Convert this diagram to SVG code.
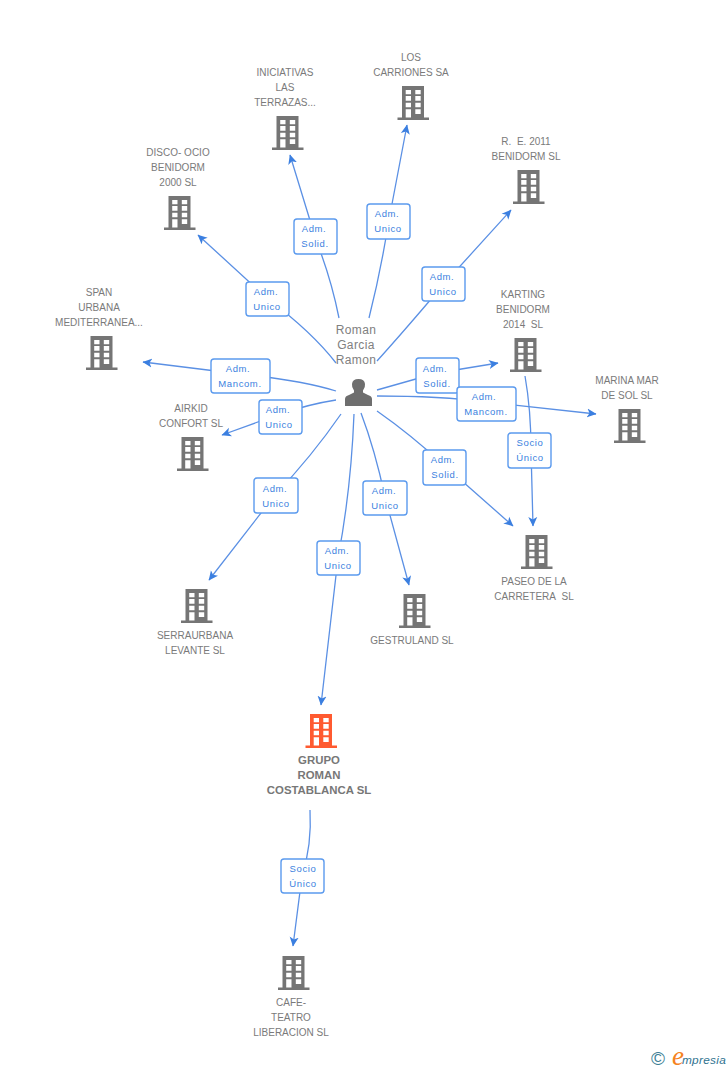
<svg xmlns="http://www.w3.org/2000/svg" width="728" height="1070" viewBox="0 0 728 1070">
<style>
text{font-family:"Liberation Sans",Arial,sans-serif;text-anchor:middle}
.n{font-size:10px;fill:#7a7a7a}
.b{font-size:11.400px;fill:#777;font-weight:bold}
.p{font-size:12px;fill:#808080;letter-spacing:.4px}
.l{font-size:9.500px;fill:#3b7fe0;letter-spacing:.6px}
.c{fill:none;stroke:#5b90e4;stroke-width:1.3}
.a{marker-end:url(#ar)}
.bx{fill:#fff;stroke:#5b9aee;stroke-width:1.4}
</style>
<defs>
<marker id="ar" markerUnits="userSpaceOnUse" markerWidth="11" markerHeight="10" refX="9" refY="5" orient="auto"><path d="M0 0.5L9.500 5L0 9.500L2.500 5Z" fill="#3b7fe0"/></marker>
<g id="bld"><path fill-rule="evenodd" d="M4.500 0H26.500V31.500H31.500V34H0V31.500H4.500ZM8.200 4V8.300H13.500V4ZM17.800 4V8.300H23.200V4ZM8.200 10V14.700H13.500V10ZM17.800 10V14.700H23.200V10ZM8.200 16.700V21.300H13.500V16.700ZM17.800 16.700V21.300H23.200V16.700ZM8.200 23.300V31.500H13.500V23.300ZM17.800 23.300V28H23.200V23.300Z"/></g>
</defs>
<rect width="728" height="1070" fill="#fff"/>
<g id="connectors">
<path class="c a" d="M339 318Q331 278 316 240L290 155"/>
<path class="c a" d="M369 318Q381 270 388 225L407 125"/>
<path class="c a" d="M336 363Q312 332 268 299L198 235"/>
<path class="c a" d="M377 361Q405 330 443 285L511 210"/>
<path class="c a" d="M336 391Q300 380 240 374L143 362"/>
<path class="c a" d="M336 400Q310 404 280 414L222 435"/>
<path class="c a" d="M377 390L437 373L498 363"/>
<path class="c a" d="M377 396Q440 396 487 402L596 414"/>
<path class="c a" d="M525 376Q531 410 531 450L533 526"/>
<path class="c a" d="M377 411Q410 434 445 466L513 526"/>
<path class="c a" d="M361 413Q375 450 385 497L409 585"/>
<path class="c a" d="M354 414Q351 490 338 558L321 705"/>
<path class="c a" d="M341 414Q312 456 275 495L209 580"/>
<path class="c a" d="M310 810Q312 845 302 876L293 946"/>
</g>
<g class="labels">
<g><rect class="bx" x="294" y="219" width="43" height="35" rx="3"/><text class="l" x="314" y="232">Adm.</text><text class="l" x="315" y="247">Solid.</text></g>
<g><rect class="bx" x="367" y="204" width="43" height="35" rx="3"/><text class="l" x="387" y="217">Adm.</text><text class="l" x="388" y="232">Unico</text></g>
<g><rect class="bx" x="246" y="282" width="43" height="34" rx="3"/><text class="l" x="266" y="295">Adm.</text><text class="l" x="267" y="310">Unico</text></g>
<g><rect class="bx" x="422" y="267" width="43" height="34" rx="3"/><text class="l" x="442" y="280">Adm.</text><text class="l" x="443" y="295">Unico</text></g>
<g><rect class="bx" x="211" y="359" width="59" height="34" rx="3"/><text class="l" x="238" y="372">Adm.</text><text class="l" x="240" y="387">Mancom.</text></g>
<g><rect class="bx" x="259" y="400" width="43" height="34" rx="3"/><text class="l" x="278" y="413">Adm.</text><text class="l" x="279" y="428">Unico</text></g>
<g><rect class="bx" x="416" y="358" width="43" height="35" rx="3"/><text class="l" x="435" y="372">Adm.</text><text class="l" x="437" y="387">Solid.</text></g>
<g><rect class="bx" x="457" y="387" width="59" height="34" rx="3"/><text class="l" x="484" y="400">Adm.</text><text class="l" x="486" y="415">Mancom.</text></g>
<g><rect class="bx" x="508" y="433" width="43" height="35" rx="3"/><text class="l" x="530" y="446">Socio</text><text class="l" x="530" y="461">Único</text></g>
<g><rect class="bx" x="423" y="450" width="43" height="35" rx="3"/><text class="l" x="443" y="463">Adm.</text><text class="l" x="445" y="478">Solid.</text></g>
<g><rect class="bx" x="363" y="481" width="44" height="34" rx="3"/><text class="l" x="384" y="494">Adm.</text><text class="l" x="385" y="509">Unico</text></g>
<g><rect class="bx" x="254" y="478" width="44" height="35" rx="3"/><text class="l" x="275" y="492">Adm.</text><text class="l" x="276" y="507">Unico</text></g>
<g><rect class="bx" x="317" y="541" width="43" height="34" rx="3"/><text class="l" x="337" y="554">Adm.</text><text class="l" x="338" y="569">Unico</text></g>
<g><rect class="bx" x="281" y="859" width="43" height="34" rx="3"/><text class="l" x="303" y="872">Socio</text><text class="l" x="303" y="887">Único</text></g>
</g>
<g id="person">
<text class="p" x="356" y="334">Roman</text><text class="p" x="356" y="349">Garcia</text><text class="p" x="356" y="364">Ramon</text>
<path fill="#6e6e6e" d="M345 406V399Q345 396 349 395L354 392.500V390.500Q351.500 387 352 384Q352.500 379 358.500 379Q364.500 379 365 384Q365.500 387 363 390.500V392.500L368 395Q372 396 372 399V406Z"/>
</g>
<g id="n-carriones" fill="#757575"><use href="#bld" x="397.500" y="86"/><text class="n" x="411" y="61">LOS</text><text class="n" x="411" y="76">CARRIONES SA</text></g>
<g id="n-iniciativas" fill="#757575"><use href="#bld" x="272" y="116"/><text class="n" x="285" y="76">INICIATIVAS</text><text class="n" x="285" y="91">LAS</text><text class="n" x="285" y="106">TERRAZAS...</text></g>
<g id="n-disco" fill="#757575"><use href="#bld" x="164" y="196"/><text class="n" x="178" y="156">DISCO- OCIO</text><text class="n" x="178" y="171">BENIDORM</text><text class="n" x="178" y="186">2000 SL</text></g>
<g id="n-re" fill="#757575"><use href="#bld" x="513" y="170"/><text class="n" x="526" y="145">R.&#160; E. 2011</text><text class="n" x="526" y="160">BENIDORM SL</text></g>
<g id="n-span" fill="#757575"><use href="#bld" x="86" y="336"/><text class="n" x="99" y="296">SPAN</text><text class="n" x="99" y="311">URBANA</text><text class="n" x="99" y="326">MEDITERRANEA...</text></g>
<g id="n-karting" fill="#757575"><use href="#bld" x="510" y="338"/><text class="n" x="523" y="298">KARTING</text><text class="n" x="523" y="313">BENIDORM</text><text class="n" x="523" y="328">2014&#160; SL</text></g>
<g id="n-marina" fill="#757575"><use href="#bld" x="614" y="409"/><text class="n" x="627" y="384">MARINA MAR</text><text class="n" x="627" y="399">DE SOL SL</text></g>
<g id="n-airkid" fill="#757575"><use href="#bld" x="177" y="437"/><text class="n" x="191" y="412">AIRKID</text><text class="n" x="191" y="427">CONFORT SL</text></g>
<g id="n-paseo" fill="#757575"><use href="#bld" x="521" y="535"/><text class="n" x="534" y="585">PASEO DE LA</text><text class="n" x="534" y="600">CARRETERA&#160; SL</text></g>
<g id="n-serra" fill="#757575"><use href="#bld" x="181" y="589"/><text class="n" x="195" y="639">SERRAURBANA</text><text class="n" x="195" y="654">LEVANTE SL</text></g>
<g id="n-gestruland" fill="#757575"><use href="#bld" x="399" y="594"/><text class="n" x="412" y="644">GESTRULAND SL</text></g>
<g id="n-grupo" fill="#ff5a30"><use href="#bld" x="305.500" y="714"/><text class="b" x="319" y="764">GRUPO</text><text class="b" x="319" y="779">ROMAN</text><text class="b" x="319" y="794">COSTABLANCA SL</text></g>
<g id="n-cafe" fill="#757575"><use href="#bld" x="278" y="956"/><text class="n" x="291" y="1006">CAFE-</text><text class="n" x="291" y="1021">TEATRO</text><text class="n" x="291" y="1036">LIBERACION SL</text></g>
<g id="logo">
<text x="658" y="1065" style="font-size:19px;fill:#3d7f96">©</text>
<text x="678" y="1065" style="font-size:27px;font-style:italic;fill:#f58220;font-family:'Liberation Serif',serif">e</text>
<text x="704" y="1064" style="font-size:11.800px;font-style:italic;fill:#2f7390;letter-spacing:.3px">mpresia</text>
</g>
</svg>
